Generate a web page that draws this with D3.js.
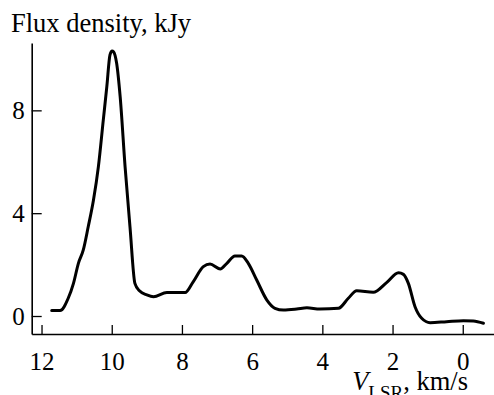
<!DOCTYPE html>
<html>
<head>
<meta charset="utf-8">
<script src="https://cdn.jsdelivr.net/npm/d3@7"></script>
<style>
  html, body { margin: 0; padding: 0; background: #fff; }
  svg, svg text { font-family: "Liberation Serif", "DejaVu Serif", serif !important; fill: #000; }
</style>
</head>
<body>
<svg id="chart" width="494" height="395" font-family="Liberation Serif, DejaVu Serif, serif"></svg>
<script>
// Spectrum: radial velocity (km/s) vs flux density (kJy)
const velocity = [11.71, 11.47, 11.24, 11.09, 10.95, 10.81, 10.67, 10.52, 10.38, 10.24, 10.14, 10.05, 9.99, 9.95, 9.86, 9.76, 9.62, 9.48, 9.34, 9.21, 9.00, 8.81, 8.43, 7.91, 7.68, 7.39, 7.20, 6.91, 6.72, 6.49, 6.30, 6.11, 5.87, 5.58, 5.35, 5.11, 4.73, 4.44, 4.07, 3.54, 3.26, 3.02, 2.55, 2.17, 1.83, 1.69, 1.55, 1.36, 1.17, 0.93, 0.46, -0.02, -0.30, -0.59];
const flux = [0.21, 0.21, 0.69, 1.27, 2.05, 2.57, 3.47, 4.51, 5.81, 7.63, 8.92, 10.16, 10.31, 10.28, 9.83, 8.53, 5.81, 3.47, 1.27, 0.98, 0.82, 0.75, 0.91, 0.91, 1.33, 1.92, 2.02, 1.83, 2.05, 2.33, 2.33, 2.05, 1.40, 0.62, 0.30, 0.23, 0.27, 0.32, 0.27, 0.30, 0.69, 0.98, 0.92, 1.30, 1.68, 1.62, 1.27, 0.36, -0.09, -0.26, -0.22, -0.18, -0.19, -0.28];
const xTicks = [12, 10, 8, 6, 4, 2, 0];
const yTicks = [0, 4, 8];

const serif = "Liberation Serif, DejaVu Serif, serif";
const svg = d3.select("#chart");
const plotLeft = 31.7, plotRight = 494, plotTop = 43, plotBottom = 334;

const x = d3.scaleLinear().domain([12.28, -0.89]).range([plotLeft, plotRight]);
const y = d3.scaleLinear().domain([-0.70, 10.62]).range([plotBottom, plotTop]);

// Bottom axis with ticks pointing into the plot
const gx = svg.append("g").attr("transform", `translate(0,${plotBottom})`)
  .call(d3.axisBottom(x).tickValues(xTicks).tickSizeInner(-9).tickSizeOuter(0).tickPadding(18).tickFormat(d3.format("d")))
  .attr("font-family", serif);
gx.select(".domain").attr("stroke-width", 1.6);
gx.selectAll(".tick line").attr("stroke-width", 1.3);
gx.selectAll(".tick text").attr("font-size", 25).attr("font-family", serif);

// Left axis with ticks pointing into the plot
const gy = svg.append("g").attr("transform", `translate(${plotLeft},0)`)
  .call(d3.axisLeft(y).tickValues(yTicks).tickSizeInner(-10).tickSizeOuter(0).tickPadding(7).tickFormat(d3.format("d")))
  .attr("font-family", serif);
gy.select(".domain").attr("stroke-width", 1.6);
gy.selectAll(".tick line").attr("stroke-width", 1.3);
gy.selectAll(".tick text").attr("font-size", 25).attr("font-family", serif);

// Spectrum line
const line = d3.line()
  .x((d, i) => x(velocity[i]))
  .y(d => y(d))
  .curve(d3.curveMonotoneX);
svg.append("path")
  .datum(flux)
  .attr("d", line)
  .attr("fill", "none")
  .attr("stroke", "#000")
  .attr("stroke-width", 3)
  .attr("stroke-linejoin", "round")
  .attr("stroke-linecap", "round");

// Axis titles
svg.append("text")
  .attr("x", 11).attr("y", 32)
  .attr("font-family", serif)
  .attr("font-size", 26.5)
  .text("Flux density, kJy");

const xt = svg.append("text")
  .attr("x", 468).attr("y", 389.5)
  .attr("text-anchor", "end")
  .attr("font-family", serif)
  .attr("font-size", 26.5);
xt.append("tspan").attr("font-style", "italic").text("V");
xt.append("tspan").attr("font-size", 19).attr("dy", 9).text("LSR");
xt.append("tspan").attr("dy", -9).text(", km/s");
</script>
</body>
</html>
